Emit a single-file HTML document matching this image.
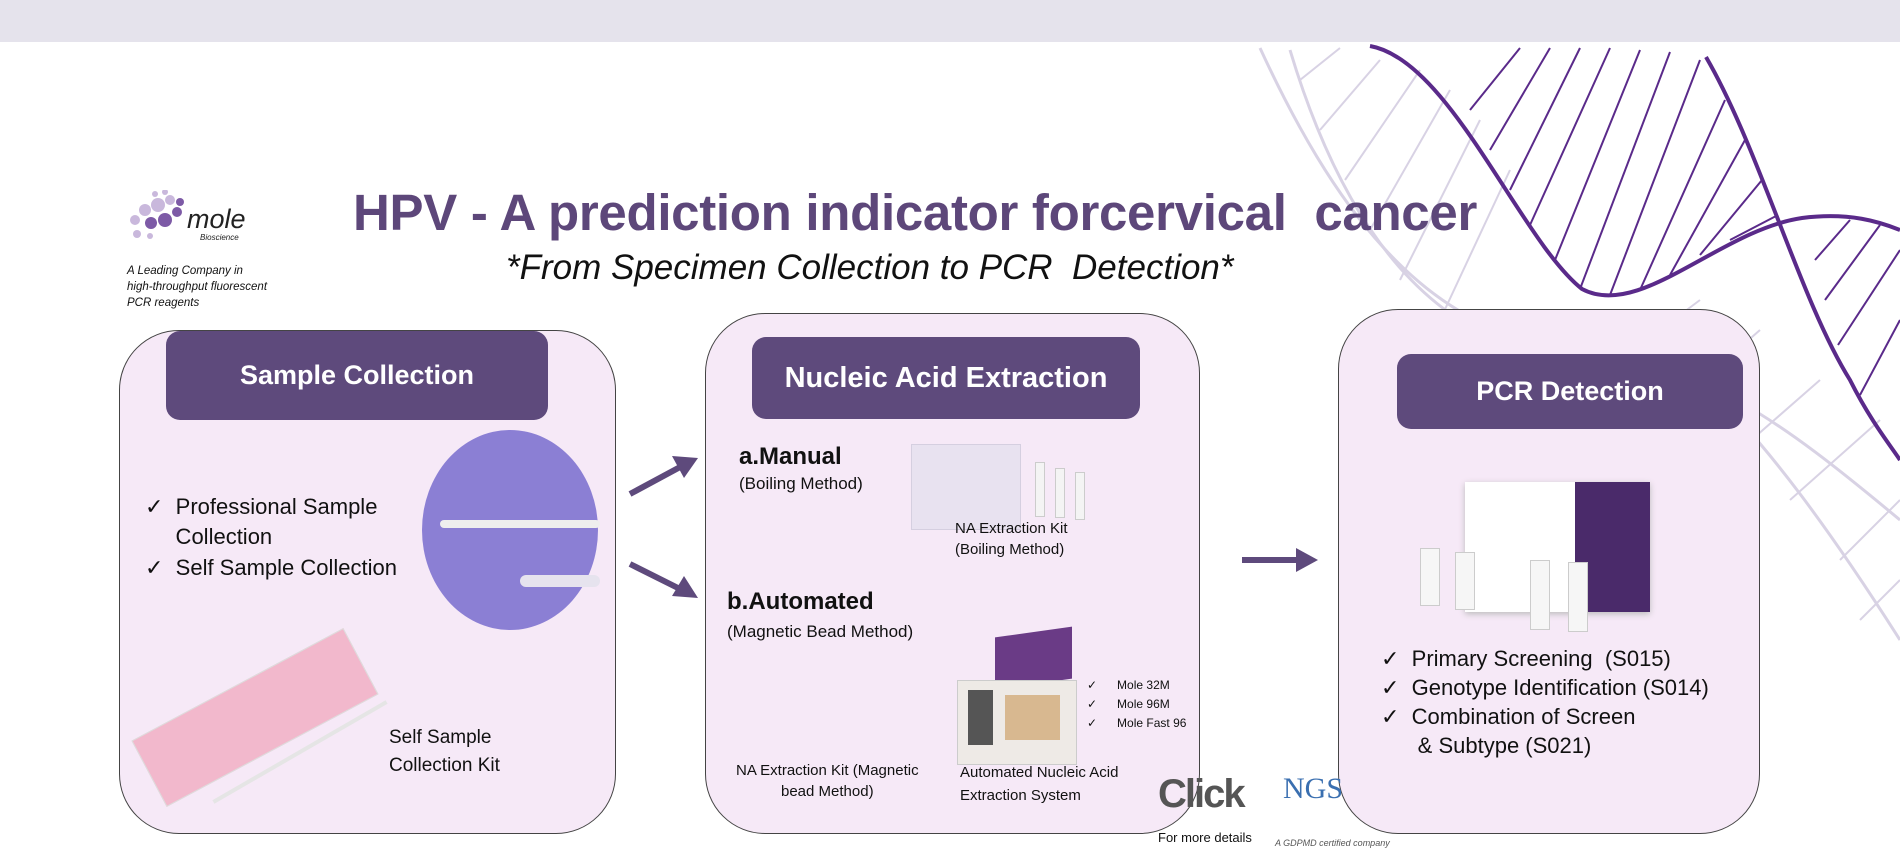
<!DOCTYPE html>
<html><head><meta charset="utf-8"><style>
*{margin:0;padding:0;box-sizing:border-box}
body{width:1900px;height:851px;background:#fff;position:relative;overflow:hidden;font-family:"Liberation Sans",sans-serif}
.a{position:absolute}
.box{position:absolute;background:#f6e9f7;border:1.5px solid #444;border-radius:60px}
.hdr{position:absolute;background:#5e4a7c;border-radius:14px;color:#fff;font-weight:bold;font-size:27px;display:flex;align-items:center;justify-content:center}
.t{position:absolute;color:#111;white-space:nowrap}
</style></head><body>
<div class="a" style="left:0;top:0;width:1900px;height:42px;background:#e5e3ec"></div>
<svg class="a" style="left:0;top:0" width="1900" height="851">
 <g stroke="#d8d2e4" stroke-width="3" fill="none">
  <path d="M1260,48 C1330,200 1420,330 1560,345 S1780,420 1900,520"/>
  <path d="M1560,330 C1650,300 1760,420 1900,640"/>
  <path d="M1290,50 C1350,250 1450,360 1600,360"/>
 </g>
 <g stroke="#d8d2e4" stroke-width="2">
  <line x1="1300" y1="80" x2="1340" y2="48"/><line x1="1320" y1="130" x2="1380" y2="60"/><line x1="1345" y1="180" x2="1420" y2="70"/><line x1="1370" y1="230" x2="1450" y2="90"/><line x1="1400" y1="280" x2="1480" y2="120"/><line x1="1440" y1="320" x2="1510" y2="170"/>
  <line x1="1620" y1="360" x2="1700" y2="300"/><line x1="1680" y1="400" x2="1760" y2="330"/><line x1="1740" y1="450" x2="1820" y2="380"/><line x1="1790" y1="500" x2="1880" y2="420"/><line x1="1840" y1="560" x2="1900" y2="500"/><line x1="1860" y1="620" x2="1900" y2="580"/>
 </g>
 <g stroke="#5a2a8a" stroke-width="4" fill="none">
  <path d="M1370,46 C1450,60 1520,240 1582,289 C1640,320 1720,230 1802,218 C1850,212 1880,222 1900,230"/>
  <path d="M1706,57 C1760,150 1800,300 1850,380 C1870,420 1890,445 1900,460"/>
 </g>
 <g stroke="#5a2a8a" stroke-width="2">
  <line x1="1470" y1="110" x2="1520" y2="48"/><line x1="1490" y1="150" x2="1550" y2="48"/><line x1="1510" y1="190" x2="1580" y2="48"/><line x1="1530" y1="225" x2="1610" y2="48"/><line x1="1555" y1="260" x2="1640" y2="50"/><line x1="1580" y1="289" x2="1670" y2="52"/><line x1="1610" y1="295" x2="1700" y2="60"/><line x1="1640" y1="290" x2="1725" y2="100"/><line x1="1670" y1="275" x2="1745" y2="140"/><line x1="1700" y1="255" x2="1762" y2="180"/><line x1="1730" y1="240" x2="1778" y2="215"/>
  <line x1="1815" y1="260" x2="1850" y2="220"/><line x1="1825" y1="300" x2="1880" y2="225"/><line x1="1838" y1="345" x2="1900" y2="250"/><line x1="1860" y1="395" x2="1900" y2="320"/>
 </g>
</svg>
<svg class="a" style="top:190px;left:125px" width="140" height="60">
 <g fill="#c9b8dc"><circle cx="10" cy="30" r="5"/><circle cx="20" cy="20" r="6"/><circle cx="33" cy="15" r="7"/><circle cx="45" cy="10" r="5"/><circle cx="12" cy="44" r="4"/><circle cx="25" cy="46" r="3"/><circle cx="30" cy="4" r="3"/><circle cx="40" cy="2" r="3"/></g>
 <g fill="#7d5aa6"><circle cx="26" cy="33" r="6"/><circle cx="40" cy="30" r="7"/><circle cx="52" cy="22" r="5"/><circle cx="55" cy="12" r="4"/></g>
 <text x="62" y="38" font-family="Liberation Sans" font-style="italic" font-size="27" fill="#222">mole</text>
 <text x="75" y="50" font-family="Liberation Sans" font-style="italic" font-size="8" fill="#222">Bioscience</text>
</svg>
<div class="t" style="left:127px;top:263px;font-size:11.5px;font-style:italic;line-height:16px">A Leading Company in<br>high-throughput fluorescent<br>PCR reagents</div>
<div class="t" style="left:353px;top:183px;font-size:51px;font-weight:bold;color:#5d477a;letter-spacing:-0.3px">HPV - A prediction indicator forcervical&nbsp; cancer</div>
<div class="t" style="left:506px;top:248px;font-size:35px;font-style:italic;color:#111">*From Specimen Collection to PCR&nbsp; Detection*</div>

<div class="box" style="left:119px;top:330px;width:497px;height:504px"></div>
<div class="box" style="left:705px;top:313px;width:495px;height:521px"></div>
<div class="box" style="left:1338px;top:309px;width:422px;height:525px"></div>
<div class="hdr" style="left:166px;top:331px;width:382px;height:89px">Sample Collection</div>
<div class="hdr" style="left:752px;top:337px;width:388px;height:82px;font-size:29px">Nucleic Acid Extraction</div>
<div class="hdr" style="left:1397px;top:354px;width:346px;height:75px">PCR Detection</div>

<div class="a" style="left:422px;top:430px;width:176px;height:200px;border-radius:50%;background:#8b7fd4"></div>
<div class="a" style="left:440px;top:520px;width:160px;height:8px;background:#eee;border-radius:4px"></div>
<div class="a" style="left:520px;top:575px;width:80px;height:12px;background:#e6e3ee;border-radius:6px"></div>
<div class="t" style="left:145px;top:492px;font-size:22px;line-height:30px">✓&nbsp; Professional Sample<br>&nbsp;&nbsp;&nbsp;&nbsp;&nbsp;Collection</div>
<div class="t" style="left:145px;top:555px;font-size:22px">✓&nbsp; Self Sample Collection</div>
<div class="a" style="left:135px;top:680px;width:240px;height:75px;background:#f2b8cc;transform:rotate(-28deg);border:1px solid #ddd"></div>
<div class="a" style="left:200px;top:750px;width:200px;height:4px;background:#e5e5e5;transform:rotate(-30deg)"></div>
<div class="t" style="left:389px;top:724px;font-size:19px;line-height:28px">Self Sample<br>Collection Kit</div>

<svg class="a" style="left:0;top:0" width="1900" height="851">
 <g fill="#5e4a7c" stroke="#5e4a7c" stroke-width="6">
  <line x1="630" y1="494" x2="682" y2="466"/><line x1="630" y1="564" x2="682" y2="590"/><line x1="1242" y1="560" x2="1300" y2="560"/>
 </g>
 <g fill="#5e4a7c">
  <polygon points="698,458 672,456 684,478"/><polygon points="698,598 684,576 672,596"/><polygon points="1318,560 1296,548 1296,572"/>
 </g>
</svg>

<div class="t" style="left:739px;top:443px;font-size:24px;font-weight:bold">a.Manual</div>
<div class="t" style="left:739px;top:474px;font-size:17px">(Boiling Method)</div>
<div class="a" style="left:911px;top:444px;width:110px;height:86px;background:#e8e2f0;border:1px solid #d5cfe0"></div>
<div class="a" style="left:1035px;top:462px;width:10px;height:55px;background:#f4f4f4;border:1px solid #ccc"></div>
<div class="a" style="left:1055px;top:468px;width:10px;height:50px;background:#f4f4f4;border:1px solid #ccc"></div>
<div class="a" style="left:1075px;top:472px;width:10px;height:48px;background:#f4f4f4;border:1px solid #ccc"></div>
<div class="t" style="left:955px;top:518px;font-size:15px;line-height:21px">NA Extraction Kit<br>(Boiling Method)</div>
<div class="t" style="left:727px;top:588px;font-size:24px;font-weight:bold">b.Automated</div>
<div class="t" style="left:727px;top:622px;font-size:17px">(Magnetic Bead Method)</div>
<div class="a" style="left:995px;top:632px;width:77px;height:52px;background:#6a3b86;transform:skewY(-8deg)"></div>
<div class="a" style="left:957px;top:680px;width:120px;height:85px;background:#eeeae6;border:1px solid #ccc"></div>
<div class="a" style="left:968px;top:690px;width:25px;height:55px;background:#555"></div>
<div class="a" style="left:1005px;top:695px;width:55px;height:45px;background:#d8b890"></div>
<div class="t" style="left:1087px;top:676px;font-size:12px;line-height:19px">✓&nbsp;&nbsp;&nbsp;&nbsp;&nbsp; Mole 32M<br>✓&nbsp;&nbsp;&nbsp;&nbsp;&nbsp; Mole 96M<br>✓&nbsp;&nbsp;&nbsp;&nbsp;&nbsp; Mole Fast 96</div>
<div class="t" style="left:736px;top:760px;font-size:15px;line-height:21px;text-align:center">NA Extraction Kit (Magnetic<br>bead Method)</div>
<div class="t" style="left:960px;top:761px;font-size:15px;line-height:23px">Automated Nucleic Acid<br>Extraction System</div>
<div class="t" style="left:1158px;top:772px;font-size:40px;font-weight:bold;color:#555;letter-spacing:-2px">Click</div>
<div class="t" style="left:1158px;top:830px;font-size:13px">For more details</div>
<div class="t" style="left:1283px;top:772px;font-size:30px;font-family:'Liberation Serif',serif;color:#3a6fb0">NGS</div>
<div class="t" style="left:1275px;top:838px;font-size:9px;font-style:italic;color:#555">A GDPMD certified company</div>

<div class="a" style="left:1465px;top:482px;width:185px;height:130px;background:#fff;box-shadow:0 2px 6px #bbb"></div>
<div class="a" style="left:1575px;top:482px;width:75px;height:130px;background:#4a2a6a"></div>
<div class="a" style="left:1420px;top:548px;width:20px;height:58px;background:#f6f6f6;border:1px solid #ccc"></div>
<div class="a" style="left:1455px;top:552px;width:20px;height:58px;background:#f6f6f6;border:1px solid #ccc"></div>
<div class="a" style="left:1530px;top:560px;width:20px;height:70px;background:#f6f6f6;border:1px solid #ccc"></div>
<div class="a" style="left:1568px;top:562px;width:20px;height:70px;background:#f6f6f6;border:1px solid #ccc"></div>
<div class="t" style="left:1381px;top:644px;font-size:22px;line-height:29px">✓&nbsp; Primary Screening&nbsp; (S015)<br>✓&nbsp; Genotype Identification (S014)<br>✓&nbsp; Combination of Screen<br>&nbsp;&nbsp;&nbsp;&nbsp;&nbsp;&nbsp;&amp; Subtype (S021)</div>
</body></html>
